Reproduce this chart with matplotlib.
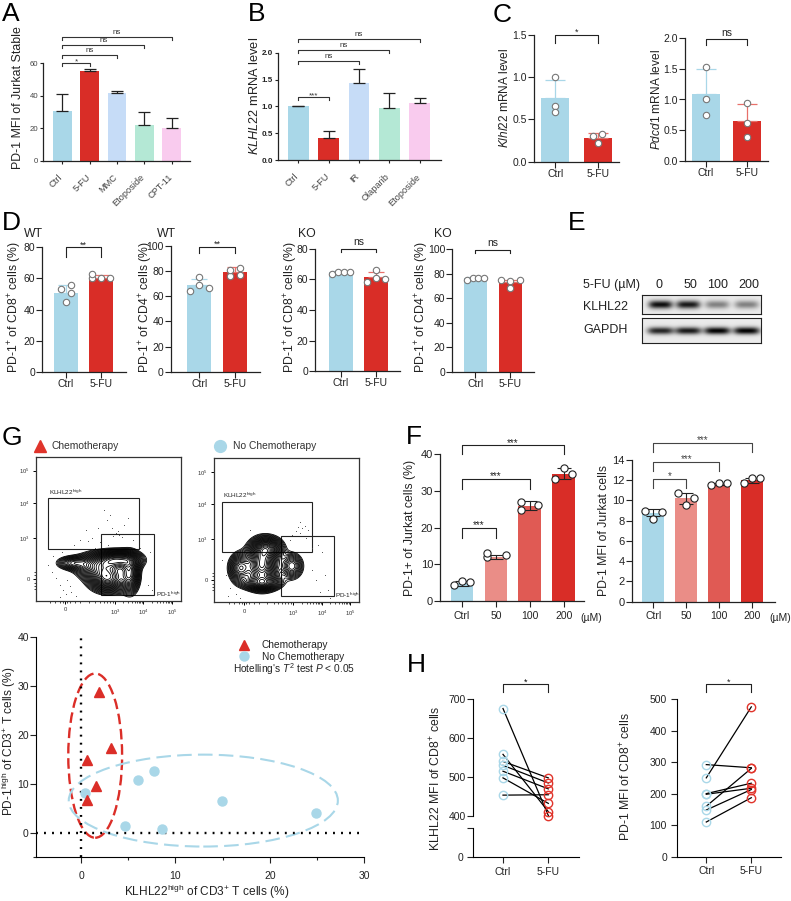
import numpy as np
import matplotlib
matplotlib.use("Agg")
import matplotlib.pyplot as plt
from matplotlib.patches import Ellipse, Rectangle
from matplotlib.transforms import ScaledTranslation

plt.rcParams['font.family'] = ['Liberation Sans', 'DejaVu Sans']
plt.rcParams['mathtext.fontset'] = 'custom'
plt.rcParams['mathtext.rm'] = 'Liberation Sans'
plt.rcParams['mathtext.it'] = 'Liberation Sans:italic'
plt.rcParams['mathtext.bf'] = 'Liberation Sans:bold'
plt.rcParams['mathtext.default'] = 'regular'

W, H = 791, 901
BLUE = '#A9D7E8'
RED = '#D92D27'
TXT = '#222222'

# panel A
a_labels = ['Ctrl', '5-FU', 'MMC', 'Etoposide', 'CPT-11']
a_means = [30.5, 55, 41.5, 22, 20]
a_tops = [41.3, 56.2, 43, 30.2, 26]
a_colors = [BLUE, RED, '#C6DCF7', '#B4E8D5', '#F9CBEE']
# panel B
b_labels = ['Ctrl', '5-FU', 'IR', 'Olaparib', 'Etoposide']
b_means = [1.0, 0.42, 1.43, 0.97, 1.06]
b_tops = [1.0, 0.54, 1.70, 1.26, 1.16]
# panel C
c1_means = [0.75, 0.28]
c1_tops = [0.97, 0.34]
c1_pts = [[1.0, 0.66, 0.59], [0.30, 0.33, 0.22]]
c2_means = [1.09, 0.66]
c2_tops = [1.50, 0.93]
c2_pts = [[1.52, 1.0, 0.75], [0.94, 0.62, 0.40]]
# panel D
d1_means = [51, 60.5]
d1_tops = [55.7, 62.5]
d1_pts = [[53, 55.5, 50.5, 45], [60, 63, 60.5, 60]]
d2_means = [69, 79]
d2_tops = [73.5, 83]
d2_pts = [[64.5, 75, 69, 66.5], [76, 80.5, 82.5, 77]]
d3_means = [64.5, 61.5]
d3_tops = [65.5, 65]
d3_pts = [[63.5, 65, 64.5, 65], [58.5, 66, 61, 60.5]]
d4_means = [76, 73]
d4_tops = [77, 75]
d4_pts = [[75, 76, 76.5, 76.5], [75, 74, 68, 74.5]]
# panel E
e_lanes = ['0', '50', '100', '200']
e_klhl22 = [0.95, 0.9, 0.45, 0.45]
e_gapdh = [0.85, 0.9, 1.0, 1.0]
# panel F
f_labels = ['Ctrl', '50', '100', '200']
f_colors = [BLUE, '#EA8D87', '#E05A54', RED]
f1_means = [4.8, 12.0, 26.0, 34.7]
f1_errs = [0.6, 0.5, 1.2, 1.5]
f1_pts = [[4.4, 5.5, 5.3], [11.9, 13.0, 12.5], [27.0, 24.8, 26.2], [33.3, 36.3, 34.5]]
f2_means = [8.8, 10.2, 11.6, 12.0]
f2_errs = [0.35, 0.55, 0.1, 0.25]
f2_pts = [[9.0, 8.2, 8.9], [10.7, 9.6, 10.2], [11.5, 11.7, 11.7], [11.7, 12.2, 12.2]]
# panel G scatter
chemo_x = [0.6, 1.6, 0.6, 3.2, 1.9]
chemo_y = [6.7, 9.5, 15.0, 17.3, 28.8]
nochemo_x = [0.4, 4.7, 6.0, 7.7, 8.6, 14.9, 24.9]
nochemo_y = [8.2, 1.4, 10.8, 12.6, 0.8, 6.5, 4.1]
# panel G flow plots, density blobs as x, y, sx, sy, weight in figure pixels
blob1 = [(72, 563, 9, 4, 0.42), (95, 566, 12, 7.5, 0.6), (118, 560, 13, 5.5, 1.0),
         (108, 578, 11, 8, 1.0), (130, 574, 5.5, 11, 0.75)]
blob2 = [(240, 568, 6.5, 8.5, 0.6), (262, 565, 9, 12, 1.0), (267, 548, 9, 6.5, 0.7),
         (262, 583, 11, 4.5, 0.6), (292, 566, 6.5, 7.5, 0.45)]
dots1_x = [52, 56, 60, 63, 67, 71, 58, 74, 80, 62, 48, 53, 70, 88, 95, 92, 98, 107, 110, 113, 116, 119, 122, 118,
           108, 104, 124, 133, 140, 150, 148, 152, 86, 76, 128, 112, 100, 60, 66]
dots1_y = [572, 578, 585, 590, 580, 592, 560, 545, 540, 552, 565, 556, 586, 541, 548, 538, 528, 520, 515, 536, 533,
           535, 537, 531, 545, 510, 525, 540, 548, 552, 585, 590, 530, 596, 518, 528, 542, 597, 594]
dots2_x = [222, 226, 230, 236, 312, 316, 322, 328, 306, 300, 296, 292, 298, 302, 305, 308, 290, 283, 318, 325,
           228, 240, 250, 300, 312, 330, 320]
dots2_y = [560, 575, 588, 594, 570, 580, 552, 590, 538, 533, 531, 535, 527, 528, 526, 530, 540, 545, 545, 575,
           596, 598, 530, 522, 548, 598, 592]
# panel H
h1_ctrl = [675, 558, 540, 530, 515, 498, 454]
h1_fu = [402, 412, 498, 485, 470, 433, 455]
h2_ctrl = [250, 292, 200, 198, 160, 148, 110]
h2_fu = [475, 282, 233, 217, 280, 213, 187]


def px_axes(x0, x1, ytop, ybot):
    ax = fig.add_axes([x0 / W, 1 - ybot / H, (x1 - x0) / W, (ybot - ytop) / H])
    ax.patch.set_alpha(0)
    ax.spines['top'].set_visible(False)
    ax.spines['right'].set_visible(False)
    return ax


def bar_axes(x0, x1, ytop, ybot, c0, step, ymax, yticks, labels, fs=7.5, col=TXT, tl=4):
    ax = px_axes(x0, x1, ytop, ybot)
    ax.set_xlim((x0 - c0) / step, (x1 - c0) / step)
    ax.set_ylim(0, ymax)
    ax.set_yticks(yticks)
    ax.set_xticks(range(len(labels)))
    ax.set_xticklabels(labels)
    ax.tick_params(length=tl, width=0.8, labelsize=fs, pad=1, colors=TXT, labelcolor=col)
    for s in ['left', 'bottom']:
        ax.spines[s].set_linewidth(0.9)
        ax.spines[s].set_color(TXT)
    return ax


def slant_labels(ax):
    # rotated names, pulled a little left of the tick as in the source
    ax.tick_params(axis='x', pad=6)
    shift = ScaledTranslation(-4 / 100, 0, fig.dpi_scale_trans)
    for lab in ax.get_xticklabels():
        lab.set_rotation(45)
        lab.set_ha('right')
        lab.set_rotation_mode('anchor')
        lab.set_fontsize(6.6)
        lab.set_transform(lab.get_transform() + shift)


def bracket(ax, i, j, y, label, d1=3, d2=3, fs=6.5, col=TXT, off=0.5):
    k = ax.get_ylim()[1] / (ax.get_position().height * H)
    ax.plot([i, i, j, j], [y - d1 * k, y, y, y - d2 * k], color=col, lw=0.8, clip_on=False)
    if label == 'ns':
        off += 0.5
    else:
        off -= 2
    ax.annotate(label, xy=((i + j) / 2, y), xytext=(0, off), textcoords='offset points',
                ha='center', va='bottom', fontsize=fs, color=col, annotation_clip=False)


def dots(ax, i, pts, jit, ms=4.6, ec='#777777', lw=0.8):
    ax.plot([i + v for v in jit], pts, 'o', ms=ms, mfc='white', mec=ec, mew=lw, ls='none', clip_on=False, zorder=5)


def err_up(ax, x, means, tops, colors, cap, lw=0.9):
    for xi, m, t, c in zip(x, means, tops, colors):
        ax.errorbar(xi, m, yerr=[[0], [t - m]], ecolor=c, elinewidth=lw, capsize=cap, capthick=lw, fmt='none', clip_on=False)


def two_bar(x0, x1, ytop, ybot, c0, c1, wid, ymax, yticks, means, tops, pts, jit, errc=('#A9D7E8', '#E8706A')):
    step = c1 - c0
    ax = bar_axes(x0, x1, ytop, ybot, c0, step, ymax, yticks, ['Ctrl', '5-FU'])
    ax.bar([0, 1], means, width=wid / step, color=[BLUE, RED])
    err_up(ax, [0, 1], means, tops, errc, 0.25 * wid)
    dots(ax, 0, pts[0], jit[0])
    dots(ax, 1, pts[1], jit[1])
    return ax


fig = plt.figure(figsize=(7.91, 9.01), dpi=100)
ov = fig.add_axes([0, 0, 1, 1], zorder=10)
ov.set_xlim(0, W)
ov.set_ylim(H, 0)
ov.set_axis_off()


def ptext(x, y, s, fs=8, rot=0, ha='center', va='center', col=TXT):
    ov.text(x, y, s, fontsize=fs, rotation=rot, ha=ha, va=va, color=col)


for letter, x, y in [('A', 2, 14), ('B', 248, 14), ('C', 493, 15), ('D', 2, 223), ('E', 568, 223),
                     ('G', 2, 438), ('F', 406, 437), ('H', 407, 665)]:
    ptext(x, y, letter, fs=19, ha='left', col='black')

# A
ax = bar_axes(43, 190, 63.3, 160.7, 62.3, 27.35, 60, [0, 20, 40, 60], a_labels, fs=5.6, col='#444444', tl=2.5)
ax.bar(range(5), a_means, width=0.69, color=a_colors)
err_up(ax, range(5), a_means, a_tops, [TXT] * 5, 4.5)
slant_labels(ax)
for j, y in zip([1, 2, 3, 4], [60, 65, 71, 76]):
    bracket(ax, 0, j, y, '*' if j == 1 else 'ns', fs=5.8, col='#333333')
ptext(18, 98, 'PD-1 MFI of Jurkat Stable', fs=8.9, rot=90)

# B
ax = bar_axes(278, 441, 52.7, 160.3, 298.3, 30.35, 2.0, [0, 0.5, 1.0, 1.5, 2.0], b_labels, fs=5.8, col='#444444', tl=2.5)
ax.set_yticklabels(['0.0', '0.5', '1.0', '1.5', '2.0'], fontweight='bold', color='#222222')
ax.bar(range(5), b_means, width=0.68, color=a_colors)
err_up(ax, range(5), b_means, b_tops, [TXT] * 5, 4.5)
slant_labels(ax)
for j, y, lab in zip([1, 2, 3, 4], [1.18, 1.84, 2.05, 2.25], ['***', 'ns', 'ns', 'ns']):
    bracket(ax, 0, j, y, lab, fs=5.8, col='#333333')
ptext(254, 96, r'$\mathit{KLHL22}$ mRNA level', fs=9.2, rot=90)

# C
ax = two_bar(534, 619, 34.7, 161.7, 555.3, 597.7, 28.3, 1.5, [0, 0.5, 1.0, 1.5], c1_means, c1_tops, c1_pts,
             [[0, 0, 0], [-0.11, 0.11, 0]])
ax.set_yticklabels(['0.0', '0.5', '1.0', '1.5'])
bracket(ax, 0, 1, 1.5, '*', d1=8, d2=8)
ptext(505, 98, r'$\mathit{Klhl22}$ mRNA level', fs=8.6, rot=90)
ax = two_bar(685, 767.7, 37.7, 161.3, 705.7, 747, 28, 2.0, [0, 0.5, 1.0, 1.5, 2.0], c2_means, c2_tops, c2_pts,
             [[0, 0, 0], [0, 0, 0]])
ax.set_yticklabels(['0.0', '0.5', '1.0', '1.5', '2.0'])
bracket(ax, 0, 1, 1.98, 'ns', d1=6, d2=6, fs=7.5)
ptext(656, 100, r'$\mathit{Pdcd1}$ mRNA level', fs=8.6, rot=90)

# D
ax = two_bar(42.3, 126, 247.3, 372, 65.7, 101, 24, 80, [0, 20, 40, 60, 80], d1_means, d1_tops, d1_pts,
             [[-0.14, 0.14, 0.14, 0], [-0.25, -0.25, 0.25, 0.0]])
bracket(ax, 0, 1, 80, '**', d1=10, d2=10)
ax = two_bar(170.7, 260, 245.7, 372, 199.3, 235.3, 24, 100, [0, 20, 40, 60, 80, 100], d2_means, d2_tops, d2_pts,
             [[-0.26, 0, 0, 0.26], [-0.14, -0.14, 0.14, 0.14]])
bracket(ax, 0, 1, 99, '**', d1=6, d2=6)
ax = two_bar(315.3, 400, 248.7, 371.3, 341, 376, 24, 80, [0, 20, 40, 60, 80], d3_means, d3_tops, d3_pts,
             [[-0.25, -0.08, 0.08, 0.25], [-0.27, 0, 0, 0.27]])
bracket(ax, 0, 1, 80, 'ns', d1=3, d2=3, fs=7.5)
ax = two_bar(452.3, 534, 249, 371.7, 475.3, 510.3, 23.5, 100, [0, 20, 40, 60, 80, 100], d4_means, d4_tops, d4_pts,
             [[-0.25, -0.08, 0.08, 0.25], [-0.27, 0, 0, 0.27]])
bracket(ax, 0, 1, 99.5, 'ns', d1=3, d2=3, fs=7.5)
for x, yc, s in [(33, 234, 'WT'), (166, 234, 'WT'), (307, 234, 'KO'), (443, 234, 'KO')]:
    ptext(x, yc, s, fs=8.8)
ptext(15, 307, r'PD-1$^{+}$ of CD8$^{+}$ cells (%)', fs=8.8, rot=90)
ptext(146, 307, r'PD-1$^{+}$ of CD4$^{+}$ cells (%)', fs=8.8, rot=90)
ptext(291, 307, r'PD-1$^{+}$ of CD8$^{+}$ cells (%)', fs=8.8, rot=90)
ptext(422, 307, r'PD-1$^{+}$ of CD4$^{+}$ cells (%)', fs=8.8, rot=90)

# E, blot built from band strengths
lane_px = [660.7, 688.3, 717.3, 746.7]


def blot(ytop, ybot, vals, sy, lane_w):
    ax = px_axes(642.3, 761.3, ytop, ybot)
    xx, yy = np.meshgrid(np.arange(642.3, 761.3, 0.5), np.arange(ytop, ybot, 0.5))
    img = np.zeros_like(xx)
    yc = (ytop + ybot) / 2
    for x, v in zip(lane_px, vals):
        img += v * np.exp(-((xx - x) / lane_w) ** 4) * np.exp(-((yy - yc) / sy) ** 2)
    ax.imshow(1 - 0.08 - 0.92 * np.clip(img, 0, 1), cmap='gray', vmin=0, vmax=1, aspect='auto',
              extent=(642.3, 761.3, ybot, ytop), interpolation='bilinear')
    ax.set_xticks([])
    ax.set_yticks([])
    for s in ax.spines.values():
        s.set_visible(True)
        s.set_linewidth(0.8)
        s.set_color('#222222')
    return ax


blot(295.3, 314, e_klhl22, 4.0, 12)
blot(318.3, 343.3, e_gapdh, 3.6, 13)
ptext(583, 284.7, '5-FU (µM)', fs=9, ha='left')
for x, s in zip([659, 690, 718, 749], e_lanes):
    ptext(x, 284.7, s, fs=9)
ptext(583, 307, 'KLHL22', fs=9, ha='left')
ptext(583, 330, 'GAPDH', fs=9, ha='left')

# F
jit3 = [-0.25, 0.0, 0.25]
ax = bar_axes(440, 584, 454.3, 601, 462, 33.9, 40, [0, 10, 20, 30, 40], f_labels, fs=8)
ax.bar(range(4), f1_means, width=0.67, color=f_colors)
ax.errorbar(range(4), f1_means, yerr=f1_errs, fmt='none', ecolor='#222222', elinewidth=0.8, capsize=5, capthick=0.8)
for i, (p, jit) in enumerate(zip(f1_pts, [jit3, [-0.25, -0.25, 0.3], [-0.25, -0.25, 0.25], [-0.25, 0, 0.25]])):
    dots(ax, i, p, jit, ms=5.2, ec='#222222')
ax.tick_params(axis='x', labelsize=7.5, pad=3)
for j, y, d in zip([1, 2, 3], [20, 33.2, 42.4], [10, 10, 9]):
    bracket(ax, 0, j, y, '***', d1=d, d2=d, fs=7)
ptext(410, 528, 'PD-1+ of Jurkat cells (%)', fs=8.8, rot=90)
ptext(591, 618, '(µM)', fs=7.5)

ax = bar_axes(631.5, 774.7, 460, 601.7, 653.3, 32.9, 14, list(range(0, 15, 2)), f_labels, fs=8)
ax.bar(range(4), f2_means, width=0.67, color=f_colors)
ax.errorbar(range(4), f2_means, yerr=f2_errs, fmt='none', ecolor='#222222', elinewidth=0.8, capsize=5, capthick=0.8)
for i, (p, jit) in enumerate(zip(f2_pts, [[-0.25, 0, 0.25], [-0.25, 0, 0.25], [-0.25, 0, 0.25], [-0.25, 0, 0.25]])):
    dots(ax, i, p, jit, ms=5.2, ec='#222222')
ax.tick_params(axis='x', labelsize=7.5, pad=3)
for j, y, lab in zip([1, 2, 3], [12.1, 13.77, 15.7], ['*', '***', '***']):
    bracket(ax, 0, j, y, lab, d1=9, d2=9, fs=7, col='#444444')
ptext(604, 531, 'PD-1 MFI of Jurkat cells', fs=8.8, rot=90)
ptext(780, 618, '(µM)', fs=7.5)


# G flow plots
def flow(x0, x1, ytop, ybot, blobs, dx, dy, gate1, gate2, xt, yt, lab1, lab2):
    ax = fig.add_axes([x0 / W, 1 - ybot / H, (x1 - x0) / W, (ybot - ytop) / H])
    ax.set_xlim(x0, x1)
    ax.set_ylim(ybot, ytop)
    xx, yy = np.meshgrid(np.arange(x0, x1, 0.4), np.arange(ytop, ybot, 0.4))
    zz = np.zeros_like(xx)
    for bx, by, sx, sy, w in blobs:
        zz += w * np.exp(-0.5 * ((xx - bx) / sx) ** 2 - 0.5 * ((yy - by) / sy) ** 2)
    levels = zz.max() * np.linspace(0.28, 0.98, 24) ** 2
    ax.contour(xx, yy, zz, levels=levels, colors='black', linewidths=0.6)
    ax.plot(dx, dy, '.', ms=1.3, mew=0, color='#444444', ls='none')
    for g in [gate1, gate2]:
        ax.add_patch(Rectangle((g[0], g[2]), g[1] - g[0], g[3] - g[2], fill=False, ec='#222222', lw=0.8))
    ax.set_xticks(xt)
    ax.set_xticklabels(['0', r'$10^{3}$', r'$10^{4}$', r'$10^{5}$'])
    ax.set_yticks(yt)
    ax.set_yticklabels([r'$10^{5}$', r'$10^{4}$', r'$10^{3}$', '0'])
    minor_x = []
    for a, b in zip(xt[:-1], xt[1:]):
        minor_x += list(a + (b - a) * np.log10(np.arange(2, 10)))
    ax.set_xticks(minor_x + [xt[0] - 15, xt[0] - 10, xt[0] - 5, xt[0] - 2, xt[0] + 2, xt[0] + 5, xt[0] + 10], minor=True)
    ax.set_yticks([yt[3] - 7, yt[3] - 4, yt[3] + 4, yt[3] + 7, yt[3] + 10], minor=True)
    ax.tick_params(which='major', length=2.5, width=0.7, labelsize=4.2, pad=2, labelcolor='#333333')
    ax.tick_params(which='minor', length=1.5, width=0.5)
    for s in ax.spines.values():
        s.set_linewidth(0.9)
        s.set_color('#333333')
    ax.text(gate1[0] + 1, gate1[2] - 1.5, lab1, fontsize=4.6, va='bottom', color='#222222')
    ax.text(gate2[1] + 1.5, gate2[3] - 1, lab2, fontsize=4.6, va='center', color='#222222')


flow(36, 180.7, 456.7, 601, blob1, dots1_x, dots1_y, (48.3, 139, 498.3, 549), (101, 154, 534.3, 595),
     [65, 115, 143, 172], [470.7, 503.3, 538, 579], r'KLHL22$^{high}$', r'PD-1$^{high}$')
flow(214.3, 359.3, 457.7, 602.3, blob2, dots2_x, dots2_y, (221.7, 311.7, 501.7, 551.7), (280.7, 333.7, 535.7, 596.3),
     [244, 293, 322, 350], [472, 504, 539, 580], r'KLHL22$^{high}$', r'PD-1$^{high}$')
ov.plot([40], [445.5], '^', ms=8, color='#E0342B', ls='none')
ov.plot([220], [446], 'o', ms=8.5, color=BLUE, ls='none')
ptext(52, 446, 'Chemotherapy', fs=7.4, ha='left', col='#333333')
ptext(233, 446, 'No Chemotherapy', fs=7.4, ha='left', col='#333333')

# G scatter
ax = px_axes(35.7, 364.3, 637.3, 857.3)
ax.set_xlim(-4.8, 30)
ax.set_ylim(-5, 40)
ax.set_xticks([0, 10, 20, 30])
ax.set_xticks([5, 15, 25], minor=True)
ax.set_yticks([0, 10, 20, 30, 40])
ax.set_yticks([-5], minor=True)
ax.tick_params(which='both', length=4, width=0.8, labelsize=7.5, pad=1, colors=TXT)
ax.tick_params(which='minor', length=2.5)
ax.tick_params(axis='x', which='major', pad=6)
ax.plot([0, 0], [-5, 40], color='black', lw=1.7, ls=(0, (0.8, 2.6)), clip_on=False)
ax.plot([-4.8, 29.4], [0, 0], color='black', lw=1.7, ls=(0, (0.8, 2.6)), clip_on=False)
ax.add_patch(Ellipse((1.5, 15.8), 5.7, 33.6, fill=False, ec='#DB2E28', lw=1.7, ls=(0, (4.5, 2))))
ax.add_patch(Ellipse((12.95, 6.6), 28.5, 18.8, fill=False, ec=BLUE, lw=1.5, ls=(0, (7, 3))))
ax.plot(nochemo_x, nochemo_y, 'o', ms=6.5, color=BLUE, ls='none')
ax.plot(chemo_x, chemo_y, '^', ms=6.5, color='#DB2E28', ls='none')
ptext(9, 741, r'PD-1$^{high}$ of CD3$^{+}$ T cells (%)', fs=8.6, rot=90)
ptext(206.7, 892, r'KLHL22$^{high}$ of CD3$^{+}$ T cells (%)', fs=8.6)
ov.plot([244.3], [645], '^', ms=6.5, color='#DB2E28', ls='none')
ov.plot([244.3], [655.7], 'o', ms=6.5, color=BLUE, ls='none')
ptext(261.7, 645, 'Chemotherapy', fs=7.3, ha='left')
ptext(261.7, 656.5, 'No Chemotherapy', fs=7.3, ha='left')
ptext(232.7, 669.5, r"Hotelling's $\mathit{T}^{2}$ test $\mathit{P}$ < 0.05", fs=7.3, ha='left')


# H
def paired(ax, ctrl, fu):
    for a, b in zip(ctrl, fu):
        ax.plot([0, 1], [a, b], color='black', lw=0.9, clip_on=False, zorder=3)
    ax.plot([0] * len(ctrl), ctrl, 'o', ms=6, mfc='none', mec=BLUE, mew=1.0, ls='none', clip_on=False, zorder=4)
    ax.plot([1] * len(fu), fu, 'o', ms=6, mfc='none', mec='#E0342B', mew=1.0, ls='none', clip_on=False, zorder=4)


step = 45.3
h_top = px_axes(472.7, 579, 698.7, 816.3)
h_top.set_xlim((472.7 - 503) / step, (579 - 503) / step)
h_top.set_ylim(400, 700)
h_top.set_yticks([400, 500, 600, 700])
h_top.set_xticks([])
h_top.spines['bottom'].set_visible(False)
h_top.tick_params(length=4, width=0.8, labelsize=7.5, pad=1, colors=TXT)
paired(h_top, h1_ctrl, h1_fu)
h_top.plot([0, 0, 1, 1], [716, 737, 737, 716], color=TXT, lw=0.8, clip_on=False)
h_top.annotate('*', xy=(0.5, 737), xytext=(0, -1.5), textcoords='offset points', ha='center', va='bottom',
               fontsize=6.5, annotation_clip=False)
h_bot = px_axes(472.7, 579, 828.3, 857.3)
h_bot.set_xlim((472.7 - 503) / step, (579 - 503) / step)
h_bot.set_ylim(0, 74)
h_bot.set_yticks([0, 74])
h_bot.set_yticklabels(['0', ''])
h_bot.set_xticks([0, 1])
h_bot.set_xticklabels(['Ctrl', '5-FU'])
h_bot.tick_params(length=4, width=0.8, labelsize=7.5, pad=3, colors=TXT)
ptext(436, 778, 'KLHL22 MFI of CD8$^{+}$ cells', fs=8.8, rot=90)

step = 45
ax = px_axes(676.7, 781.3, 699, 856.7)
ax.set_xlim((676.7 - 706.3) / step, (781.3 - 706.3) / step)
ax.set_ylim(0, 500)
ax.set_yticks([0, 100, 200, 300, 400, 500])
ax.set_xticks([0, 1])
ax.set_xticklabels(['Ctrl', '5-FU'])
ax.tick_params(length=4, width=0.8, labelsize=7.5, pad=3, colors=TXT)
paired(ax, h2_ctrl, h2_fu)
bracket(ax, 0, 1, 546.6, '*', d1=8, d2=8)
ptext(626, 777, 'PD-1 MFI of CD8$^{+}$ cells', fs=8.8, rot=90)

plt.savefig('out.png', dpi=100)
plt.close()
